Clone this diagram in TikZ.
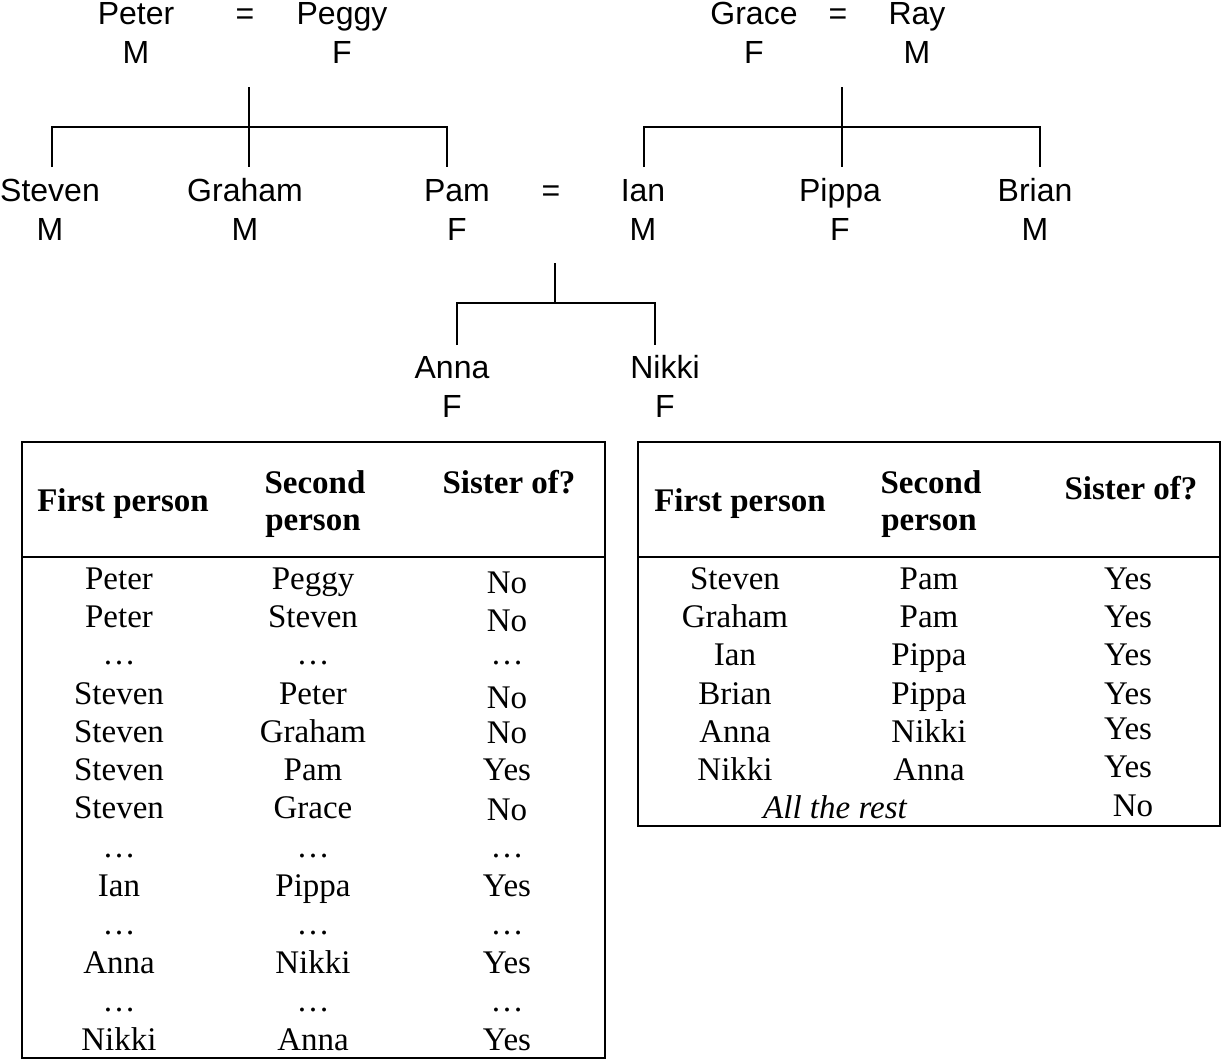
\documentclass[tikz,border=0pt]{standalone}
\usepackage{fontspec}
\setmainfont{Liberation Serif}
\newfontfamily\treefont{Liberation Sans}
\begin{document}
\begin{tikzpicture}[x=0.5pt,y=-0.5pt,
  tree/.style={font=\treefont\fontsize{16}{19}\selectfont, anchor=base, inner sep=0pt},
  cell/.style={font=\fontsize{16.5}{19}\selectfont, anchor=base, inner sep=0pt},
  head/.style={font=\bfseries\fontsize{16.5}{19}\selectfont, anchor=base, inner sep=0pt},
  rest/.style={font=\itshape\fontsize{16.5}{19}\selectfont, anchor=base, inner sep=0pt},
  link/.style={line width=1.25pt},
  frame/.style={line width=1.2pt}]
\useasboundingbox (0,0) rectangle (1226,1060);

% ---------- family tree ----------
\node[tree] (peter)  at (136,25) {Peter};
\node[tree] (peterS) at (136,63) {M};
\node[tree] (eq1)    at (245,25) {=};
\node[tree] (peggy)  at (342,25) {Peggy};
\node[tree] (peggyS) at (342,63) {F};

\node[tree] (grace)  at (754,25) {Grace};
\node[tree] (graceS) at (754,63) {F};
\node[tree] (eq2)    at (838,25) {=};
\node[tree] (ray)    at (917,25) {Ray};
\node[tree] (rayS)   at (917,63) {M};

\node[tree] (steven)  at (50,201)  {Steven};
\node[tree] (stevenS) at (50,240)  {M};
\node[tree] (graham)  at (245,201) {Graham};
\node[tree] (grahamS) at (245,240) {M};
\node[tree] (pam)     at (457,201) {Pam};
\node[tree] (pamS)    at (457,240) {F};
\node[tree] (eq3)     at (551,201) {=};
\node[tree] (ian)     at (643,201) {Ian};
\node[tree] (ianS)    at (643,240) {M};
\node[tree] (pippa)   at (840,201) {Pippa};
\node[tree] (pippaS)  at (840,240) {F};
\node[tree] (brian)   at (1035,201) {Brian};
\node[tree] (brianS)  at (1035,240) {M};

\node[tree] (anna)   at (452,378) {Anna};
\node[tree] (annaS)  at (452,417) {F};
\node[tree] (nikki)  at (665,378) {Nikki};
\node[tree] (nikkiS) at (665,417) {F};

% connectors
\coordinate (m1top) at (249,87);
\coordinate (m1bot) at (249,167);
\coordinate (c1l)   at (52,127);
\coordinate (c1lb)  at (52,167);
\coordinate (c1r)   at (447,127);
\coordinate (c1rb)  at (447,167);
\draw[link] (m1top) -- (m1bot);
\draw[link] (c1lb) -- (c1l) -- (c1r) -- (c1rb);

\coordinate (m2top) at (842,87);
\coordinate (m2bot) at (842,167);
\coordinate (c2l)   at (644,127);
\coordinate (c2lb)  at (644,167);
\coordinate (c2r)   at (1040,127);
\coordinate (c2rb)  at (1040,167);
\draw[link] (m2top) -- (m2bot);
\draw[link] (c2lb) -- (c2l) -- (c2r) -- (c2rb);

\coordinate (m3top) at (555,263);
\coordinate (m3bar) at (555,303);
\coordinate (c3l)   at (457,303);
\coordinate (c3lb)  at (457,345);
\coordinate (c3r)   at (655,303);
\coordinate (c3rb)  at (655,345);
\draw[link] (m3top) -- (m3bar);
\draw[link] (c3lb) -- (c3l) -- (c3r) -- (c3rb);

% ---------- left table ----------
\draw[frame] (22,442) rectangle (605,1058);
\draw[frame] (22,557) -- (605,557);
\node[head] (lh1)  at (123,511) {First person};
\node[head] (lh2a) at (315,493) {Second};
\node[head] (lh2b) at (313,530) {person};
\node[head] (lh3)  at (509,493) {Sister of?};

\foreach \n/\y/\a/\b/\c/\yc in {
  1/589/Peter/Peggy/No/593,
  2/627/Peter/Steven/No/631,
  3/664/…/…/…/664,
  4/704/Steven/Peter/No/708,
  5/742/Steven/Graham/No/743,
  6/780/Steven/Pam/Yes/780,
  7/818/Steven/Grace/No/820,
  8/857/…/…/…/857,
  9/896/Ian/Pippa/Yes/896,
  10/934/…/…/…/934,
  11/973/Anna/Nikki/Yes/973,
  12/1011/…/…/…/1011,
  13/1050/Nikki/Anna/Yes/1050}{
  \node[cell] (la\n) at (119,\y) {\a};
  \node[cell] (lb\n) at (313,\y) {\b};
  \node[cell] (lc\n) at (507,\yc) {\c};
}

% ---------- right table ----------
\draw[frame] (638,442) rectangle (1220,826);
\draw[frame] (638,557) -- (1220,557);
\node[head] (rh1)  at (740,511) {First person};
\node[head] (rh2a) at (931,493) {Second};
\node[head] (rh2b) at (929,530) {person};
\node[head] (rh3)  at (1131,499) {Sister of?};

\foreach \n/\y/\a/\b/\yc in {
  1/589/Steven/Pam/589,
  2/627/Graham/Pam/627,
  3/665/Ian/Pippa/665,
  4/704/Brian/Pippa/704,
  5/742/Anna/Nikki/739,
  6/780/Nikki/Anna/777}{
  \node[cell] (ra\n) at (735,\y) {\a};
  \node[cell] (rb\n) at (929,\y) {\b};
  \node[cell] (rc\n) at (1128,\yc) {Yes};
}
\node[rest] (rrest) at (835,818) {All the rest};
\node[cell] (rno)   at (1133,816) {No};
\end{tikzpicture}
\end{document}
